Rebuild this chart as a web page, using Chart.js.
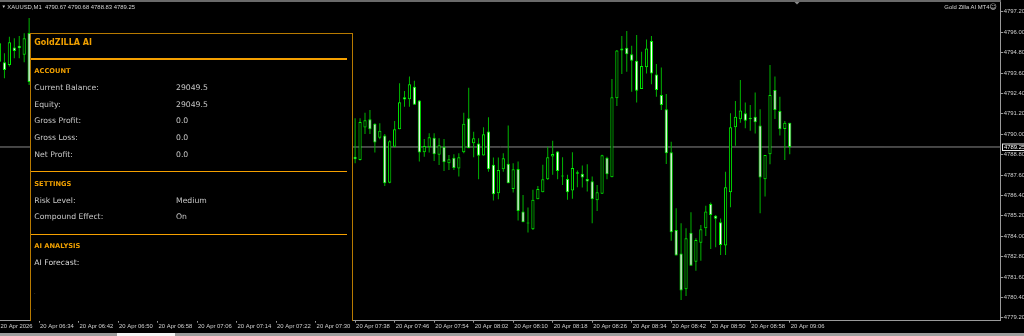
<!DOCTYPE html>
<html><head><meta charset="utf-8">
<script src="https://cdn.jsdelivr.net/npm/chart.js@4.4.0/dist/chart.umd.min.js"></script>
<style>
html,body{margin:0;padding:0;background:#000;width:1024px;height:336px;overflow:hidden;}
#wrap{position:relative;width:1024px;height:336px;background:#000;}
#c{position:absolute;left:0;top:0;}
.t{position:absolute;white-space:nowrap;line-height:10px;height:10px;}
.sm{font-family:"Liberation Sans",Arial,sans-serif;font-size:5.9px;color:#d4d4d4;}
#clip{position:absolute;left:0;top:0;width:1000px;height:321px;overflow:hidden;pointer-events:none;}
#panel{position:absolute;left:30px;top:33.3px;width:322.7px;height:400px;box-sizing:border-box;border:1px solid #b87a00;background:#000;}
.p{font-family:"DejaVu Sans",Verdana,sans-serif;font-size:7.7px;color:#c8c8c8;}
.h{font-family:"DejaVu Sans",Verdana,sans-serif;font-weight:bold;color:#f0a000;font-size:6.7px;}
.hr{position:absolute;left:31px;width:316px;height:1.8px;background:#f5a000;}
#topbar{position:absolute;left:0;top:0;width:1001px;height:1.5px;background:#6a6a6a;}
#tabs{position:absolute;left:0;top:332.5px;width:1024px;height:3.5px;background:#9c9c9c;}
#tab{position:absolute;left:117px;top:332.5px;width:58px;height:3.5px;background:#f4f4f4;}
</style></head><body>
<div id="wrap">
<canvas id="c" width="1024" height="336"></canvas>
<div id="topbar"></div>
<div class="t sm" style="left:1.5px;top:1.7px;font-size:4.5px;color:#c8c8c8;">▼</div>
<div class="t sm" style="left:7.3px;top:1.7px;">XAUUSD,M1&nbsp; 4790.67 4790.68 4788.83 4789.25</div>
<div class="t sm" style="right:34.5px;top:1.7px;">Gold Zilla AI MT4</div>
<div class="t" style="left:989.5px;top:1.7px;font-family:'DejaVu Sans';font-size:7px;color:#d8d8d8;">☺</div>
<div id="clip">
  <div id="panel"></div>
  <div class="t h" style="left:34.3px;top:37.7px;font-size:8px;">GoldZILLA AI</div>
  <div class="hr" style="top:58.2px;"></div>
  <div class="t h" style="left:34.3px;top:66.3px;">ACCOUNT</div>
  <div class="t p" style="left:34.3px;top:83.3px;">Current Balance:</div>
  <div class="t p" style="left:176px;top:83.3px;">29049.5</div>
  <div class="t p" style="left:34.3px;top:99.7px;">Equity:</div>
  <div class="t p" style="left:176px;top:99.7px;">29049.5</div>
  <div class="t p" style="left:34.3px;top:116.3px;">Gross Profit:</div>
  <div class="t p" style="left:176px;top:116.3px;">0.0</div>
  <div class="t p" style="left:34.3px;top:133px;">Gross Loss:</div>
  <div class="t p" style="left:176px;top:133px;">0.0</div>
  <div class="t p" style="left:34.3px;top:150px;">Net Profit:</div>
  <div class="t p" style="left:176px;top:150px;">0.0</div>
  <div class="hr" style="top:170.7px;"></div>
  <div class="t h" style="left:34.3px;top:179px;">SETTINGS</div>
  <div class="t p" style="left:34.3px;top:195.7px;">Risk Level:</div>
  <div class="t p" style="left:176px;top:195.7px;">Medium</div>
  <div class="t p" style="left:34.3px;top:212.3px;">Compound Effect:</div>
  <div class="t p" style="left:176px;top:212.3px;">On</div>
  <div class="hr" style="top:233.6px;"></div>
  <div class="t h" style="left:34.3px;top:241px;">AI ANALYSIS</div>
  <div class="t p" style="left:34.3px;top:258px;color:#d8d8d8;">AI Forecast:</div>
  <div class="t p" style="left:34px;top:286.5px;font-size:5px;color:#777;">.</div>
  <div class="t p" style="left:34px;top:303px;font-size:5px;color:#777;">.</div>
</div>
<div id="tabs"></div><div id="tab"></div>
</div>
<script>
// ---- data (M1 bars, bar index = minutes after 06:26) ----
const GAP = new Array(65).fill(null); // bars 7..71 are hidden behind the panel
const openP = [4794.27,4794.23,4794.08,4795.10,4795.21,4794.67,4795.96, ...GAP,
 4788.68,4788.49,4790.39,4790.88,4790.61,4789.80,4789.92,4787.15,4789.27,4790.29,
 4792.17,4792.06,4792.80,4791.98,4788.94,4789.23,4789.80,4788.80,4789.27,4788.29,
 4788.62,4787.98,4788.94,4790.94,4789.47,4789.45,4788.75,4790.16,4788.20,4786.53,
 4787.94,4788.26,4786.78,4787.96,4785.45,4784.79,4784.41,4786.18,4786.59,4787.35,
 4788.69,4788.98,4787.55,4787.37,4786.69,4787.77,4787.67,4787.37,4787.24,4786.11,
 4786.50,4788.62,4787.47,4792.11,4794.92,4795.09,4794.70,4794.33,4792.66,4793.94,
 4795.48,4793.52,4792.31,4791.47,4788.94,4784.37,4782.99,4780.88,4784.21,4782.50,
 4783.62,4784.47,4785.90,4785.21,4784.82,4783.45,4786.58,4790.41,4790.88,4791.23,
 4790.88,4791.03,4790.52,4787.35,4788.82,4792.60,4791.37,4790.31,4790.67];
const highP = [4795.45,4794.76,4795.74,4795.65,4795.78,4795.94,4796.84, ...GAP,
 4790.94,4790.94,4791.27,4791.43,4790.65,4790.65,4790.02,4789.65,4790.78,4793.00,
 4792.55,4793.39,4793.15,4792.02,4789.72,4790.06,4790.06,4789.76,4789.72,4788.78,
 4788.82,4788.88,4791.27,4792.74,4790.15,4789.77,4790.41,4791.00,4788.63,4788.63,
 4788.88,4790.51,4788.29,4788.39,4786.43,4785.69,4786.73,4786.96,4788.20,4789.27,
 4789.61,4789.02,4788.65,4787.61,4788.94,4787.86,4788.16,4788.24,4787.52,4787.01,
 4788.80,4788.68,4793.25,4794.96,4795.78,4796.07,4795.21,4795.84,4794.86,4795.58,
 4795.78,4794.13,4793.92,4792.37,4789.56,4785.64,4784.76,4784.47,4785.41,4783.88,
 4784.66,4785.80,4785.99,4785.25,4785.05,4787.80,4791.23,4791.96,4793.19,4791.86,
 4791.72,4792.45,4791.47,4788.78,4794.07,4793.39,4792.21,4790.78,4790.68];
const lowP = [4794.23,4793.29,4793.98,4794.47,4794.47,4794.23,4792.90, ...GAP,
 4788.29,4788.45,4790.02,4790.02,4788.92,4789.70,4786.96,4787.12,4789.23,4790.29,
 4791.62,4791.62,4791.74,4788.39,4788.68,4788.92,4788.43,4788.19,4787.84,4787.90,
 4787.90,4787.51,4788.88,4789.17,4788.64,4787.35,4788.75,4787.80,4786.10,4786.18,
 4787.80,4787.12,4786.57,4784.92,4784.82,4784.22,4784.37,4786.18,4786.59,4787.31,
 4787.61,4787.35,4787.02,4786.14,4786.20,4786.88,4786.86,4786.63,4784.77,4785.48,
 4786.50,4787.35,4787.47,4791.66,4793.54,4793.68,4792.50,4791.86,4792.66,4793.58,
 4792.94,4792.21,4791.43,4788.25,4783.74,4782.86,4780.25,4780.48,4782.27,4781.97,
 4782.56,4784.01,4783.25,4783.35,4782.90,4782.90,4785.70,4789.33,4790.68,4790.35,
 4790.21,4790.05,4785.35,4786.33,4788.23,4790.90,4789.92,4788.48,4788.83];
const closeP = [4795.35,4793.78,4795.41,4794.90,4795.06,4795.65,4793.08, ...GAP,
 4788.53,4790.72,4790.82,4790.29,4789.51,4790.21,4787.12,4789.59,4790.29,4791.88,
 4792.04,4792.94,4791.74,4788.92,4789.31,4789.82,4788.82,4789.35,4788.35,4788.53,
 4788.02,4788.64,4790.61,4789.17,4789.76,4788.73,4790.00,4787.94,4786.47,4787.90,
 4788.59,4787.12,4787.94,4785.49,4784.82,4784.75,4786.14,4786.78,4787.35,4788.65,
 4788.84,4787.84,4787.51,4786.59,4788.02,4787.67,4787.45,4787.22,4786.18,4786.58,
 4788.76,4787.64,4792.17,4794.92,4795.05,4794.70,4794.33,4792.56,4794.01,4795.05,
 4793.58,4792.60,4791.72,4788.88,4784.23,4782.86,4780.80,4783.88,4782.27,4783.78,
 4784.41,4785.45,4785.25,4785.03,4783.48,4786.88,4790.41,4791.03,4791.39,4790.80,
 4790.97,4790.70,4787.45,4788.78,4792.31,4791.43,4790.29,4790.68,4789.25];
const bidPrice = [4789.25];
const yTicks = [4797.20,4796.00,4794.80,4793.60,4792.40,4791.20,4790.00,4788.80,4787.60,4786.40,4785.20,4784.00,4782.80,4781.60,4780.40,4779.20];
const xTickBars = [0,8,16,24,32,40,48,56,64,72,80,88,96,104,112,120,128,136,144,152,160];
const xTickLabels = ['20 Apr 2026','20 Apr 06:34','20 Apr 06:42','20 Apr 06:50','20 Apr 06:58','20 Apr 07:06','20 Apr 07:14','20 Apr 07:22','20 Apr 07:30','20 Apr 07:38','20 Apr 07:46','20 Apr 07:54','20 Apr 08:02','20 Apr 08:10','20 Apr 08:18','20 Apr 08:26','20 Apr 08:34','20 Apr 08:42','20 Apr 08:50','20 Apr 08:58','20 Apr 09:06'];

// ---- build datasets ----
const bodies = [], wicks = [];
for (let i = 0; i < openP.length; i++) {
  if (openP[i] === null) continue;
  bodies.push({x: i, y: [openP[i], closeP[i]]});
  wicks.push({x: i, y: [lowP[i], highP[i]]});
}
const X_MIN = 0.101, X_MAX = 202.71, Y_MIN = 4779.03, Y_MAX = 4797.78;
const AXIS = '#9a9a9a';
const smallFont = {family: '"Liberation Sans", Arial, sans-serif', size: 5.9};

const extras = {
  id: 'extras',
  afterDraw(chart) {
    const {ctx, scales: {y}, chartArea} = chart;
    const py = Math.round(y.getPixelForValue(bidPrice[0]));
    const rx = Math.round(chartArea.right);
    ctx.save();
    ctx.fillStyle = '#000';
    ctx.fillRect(rx + 1, py - 3.5, 24, 7);
    ctx.strokeStyle = '#e6e6e6'; ctx.lineWidth = 1;
    ctx.strokeRect(rx + 1.5, py - 3, 24, 6.5);
    ctx.fillStyle = '#ffffff';
    ctx.font = '5.9px "Liberation Sans", Arial, sans-serif';
    ctx.textBaseline = 'middle';
    ctx.fillText(bidPrice[0].toFixed(2), rx + 3, py + 0.5);
    ctx.fillStyle = '#8a8a8a';
    ctx.beginPath(); ctx.moveTo(794, 1.5); ctx.lineTo(800, 1.5); ctx.lineTo(797, 4.5); ctx.closePath(); ctx.fill();
    ctx.restore();
  }
};

new Chart(document.getElementById('c'), {
  type: 'bar',
  data: {
    datasets: [
      {
        type: 'bar', label: 'body', data: bodies, order: 0, grouped: false,
        barThickness: 3.2, borderWidth: 1, borderSkipped: false, minBarLength: 1, inflateAmount: 0,
        borderColor: '#00f000',
        backgroundColor: c => (c.raw && c.raw.y[1] < c.raw.y[0]) ? '#ffffff' : '#000000'
      },
      {
        type: 'bar', label: 'wick', data: wicks, order: 1, grouped: false,
        barThickness: 1, borderWidth: 0, inflateAmount: 0, backgroundColor: '#00b400'
      },
      {
        type: 'line', label: 'bid', order: 2,
        data: [{x: X_MIN - 1, y: bidPrice[0]}, {x: X_MAX + 1, y: bidPrice[0]}],
        borderColor: '#8a8a8a', borderWidth: 1, pointRadius: 0, fill: false
      }
    ]
  },
  options: {
    responsive: false, animation: false, devicePixelRatio: 1,
    layout: {padding: {top: 2, left: 0, right: 0, bottom: 0}},
    plugins: {legend: {display: false}, tooltip: {enabled: false}},
    scales: {
      x: {
        type: 'linear', position: 'bottom', min: X_MIN, max: X_MAX, offset: false, grace: 0,
        afterBuildTicks: s => { s.ticks = xTickBars.map(v => ({value: v})); },
        afterFit: s => { s.height = 15.3; s.paddingLeft = 0; s.paddingRight = 0; },
        grid: {drawOnChartArea: false, drawTicks: true, tickLength: 2, color: AXIS, offset: false},
        border: {display: true, color: AXIS, width: 1},
        ticks: {
          autoSkip: false, maxRotation: 0, minRotation: 0, align: 'start', padding: 0, labelOffset: 1,
          color: '#d0d0d0', font: smallFont,
          callback: (v, i) => xTickLabels[i]
        }
      },
      y: {
        type: 'linear', position: 'right', min: Y_MIN, max: Y_MAX, grace: 0,
        afterBuildTicks: s => { s.ticks = yTicks.map(v => ({value: v})); },
        afterFit: s => { s.width = 23.3; s.paddingTop = 0; s.paddingBottom = 0; },
        grid: {drawOnChartArea: false, drawTicks: true, tickLength: 2.5, color: AXIS},
        border: {display: true, color: AXIS, width: 1},
        ticks: {padding: 0.5, color: '#d0d0d0', font: smallFont, callback: v => Number(v).toFixed(2)}
      }
    }
  },
  plugins: [extras]
});
</script>
</body></html>
